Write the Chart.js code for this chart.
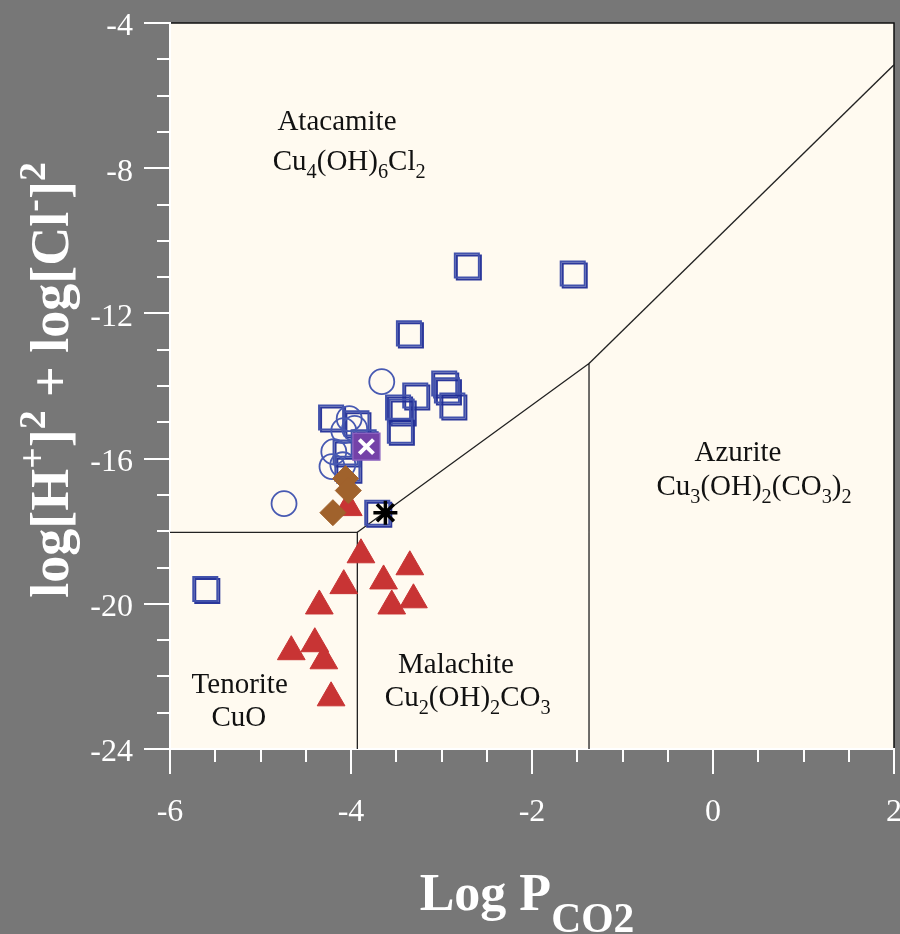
<!DOCTYPE html>
<html><head><meta charset="utf-8">
<script src="https://cdn.jsdelivr.net/npm/chart.js@4"></script>
<style>html,body{margin:0;padding:0;background:#777777;overflow:hidden;}canvas{display:block;}</style>
</head><body>
<canvas id="c" width="900" height="934" style="width:900px;height:934px"></canvas>
<script>
// ---------- data ----------
const xTicks = [-6, -4, -2, 0, 2];
const yTicks = [-4, -8, -12, -16, -20, -24];

const squareX = [-2.72, -1.55, -3.36, -3.29, -2.97, -2.94, -2.88, -3.48, -3.44, -3.46, -4.22, -3.94, -4.06, -4.04, -5.61, -3.71, -3.86];
const squareY = [-10.68, -10.90, -12.55, -14.26, -13.93, -14.12, -14.54, -14.59, -14.70, -15.23, -14.87, -15.03, -15.83, -16.28, -19.59, -17.49, -15.55];

const circleX = [-3.66, -4.74, -4.02, -4.08, -3.96, -4.19, -4.21, -4.09];
const circleY = [-13.88, -17.24, -14.90, -15.23, -15.17, -15.81, -16.22, -16.17];

const triangleX = [-3.89, -4.08, -4.35, -4.40, -4.66, -4.30, -4.22, -3.64, -3.35, -3.55, -3.31, -4.03];
const triangleY = [-18.65, -19.50, -20.06, -21.10, -21.32, -21.57, -22.59, -19.37, -18.98, -20.06, -19.89, -17.35];

const diamondX = [-4.06, -4.03, -4.20];
const diamondY = [-16.55, -16.88, -17.49];

const purpleX = [-3.83];
const purpleY = [-15.67];

const starX = [-3.62];
const starY = [-17.49];

// phase boundaries
const tenoriteEdgeX = [-6, -3.93, -3.93];
const tenoriteEdgeY = [-18.03, -18.03, -24];
const malachiteEdgeX = [-3.93, -1.37, -1.37];
const malachiteEdgeY = [-18.03, -13.38, -24];
const azuriteEdgeX = [-1.37, 2];
const azuriteEdgeY = [-13.38, -5.15];

// ---------- helpers ----------
const pts = (xs, ys) => xs.map((x, i) => ({x, y: ys[i]}));
const SERIF = '"Liberation Serif","Times New Roman",Times,serif';
const noPad = () => ({left: 0, top: 0, right: 0, bottom: 0});

function drawRich(ctx, segs, x, y, size, weight, align, subScale, subDy, supDy) {
  const parts = segs.map(s => {
    const kind = s[1] || '';
    const sz = kind ? size * subScale : size;
    const dy = kind === 'sub' ? size * subDy : kind === 'sup' ? -size * supDy : 0;
    ctx.font = `${weight} ${sz}px ${SERIF}`;
    return {t: s[0], sz, dy, w: ctx.measureText(s[0]).width};
  });
  const total = parts.reduce((a, p) => a + p.w, 0);
  let cx = align === 'center' ? x - total / 2 : x;
  ctx.textAlign = 'left';
  ctx.textBaseline = 'alphabetic';
  for (const p of parts) {
    ctx.font = `${weight} ${p.sz}px ${SERIF}`;
    ctx.fillText(p.t, cx, y + p.dy);
    cx += p.w;
  }
}

const regionLabels = [
  {x: -4.155, y: -6.95, segs: [['Atacamite']]},
  {x: -4.02, y: -8.06, segs: [['Cu'], ['4', 'sub'], ['(OH)'], ['6', 'sub'], ['Cl'], ['2', 'sub']]},
  {x: 0.276, y: -16.06, segs: [['Azurite']]},
  {x: 0.453, y: -16.99, segs: [['Cu'], ['3', 'sub'], ['(OH)'], ['2', 'sub'], ['(CO'], ['3', 'sub'], [')'], ['2', 'sub']]},
  {x: -2.84, y: -21.90, segs: [['Malachite']]},
  {x: -2.71, y: -22.81, segs: [['Cu'], ['2', 'sub'], ['(OH)'], ['2', 'sub'], ['CO'], ['3', 'sub']]},
  {x: -5.23, y: -22.46, segs: [['Tenorite']]},
  {x: -5.24, y: -23.37, segs: [['CuO']]}
];

const framePlugin = {
  id: 'frame',
  beforeDraw(chart) {
    const {ctx, chartArea: a} = chart;
    ctx.save();
    ctx.fillStyle = '#777777';
    ctx.fillRect(0, 0, chart.width, chart.height);
    ctx.fillStyle = '#fffaf0';
    ctx.fillRect(a.left, a.top, a.right - a.left, a.bottom - a.top);
    ctx.strokeStyle = '#111';
    ctx.lineWidth = 1.5;
    ctx.strokeRect(a.left, a.top, a.right - a.left, a.bottom - a.top);
    ctx.restore();
  },
  beforeDatasetsDraw(chart) {
    const {ctx, scales: {x, y}} = chart;
    ctx.save();
    ctx.fillStyle = '#111';
    for (const L of regionLabels) {
      drawRich(ctx, L.segs, x.getPixelForValue(L.x), y.getPixelForValue(L.y), 29, 'normal', 'center', 0.7, 0.28, 0.4);
    }
    ctx.restore();
  },
  beforeDatasetDraw(chart, args) {
    const ds = chart.data.datasets[args.index];
    if (ds.shadow) {
      const ctx = chart.ctx;
      ctx.save();
      ctx.shadowColor = 'rgba(32,44,150,0.95)';
      ctx.shadowOffsetX = 2;
      ctx.shadowOffsetY = 2;
      ctx.shadowBlur = 0.6;
    }
  },
  afterDatasetDraw(chart, args) {
    const ds = chart.data.datasets[args.index];
    if (ds.shadow) chart.ctx.restore();
  },
  afterDraw(chart) {
    const {ctx, chartArea: a, scales: {x, y}} = chart;
    ctx.save();
    ctx.strokeStyle = '#ffffff';
    ctx.lineWidth = 2;
    ctx.beginPath();
    for (let k = 0; k <= 16; k++) {
      const v = x.min + k * 0.5;
      const px = Math.round(x.getPixelForValue(v));
      const len = (k % 4 === 0) ? 25 : 13;
      ctx.moveTo(px, a.bottom); ctx.lineTo(px, a.bottom + len);
    }
    for (let k = 0; k <= 20; k++) {
      const v = y.max - k;
      const py = Math.round(y.getPixelForValue(v));
      const len = (k % 4 === 0) ? 26 : 13;
      ctx.moveTo(a.left, py); ctx.lineTo(a.left - len, py);
    }
    ctx.stroke();
    // axis titles
    ctx.fillStyle = '#ffffff';
    drawRich(ctx, [['Log P'], ['CO2', 'sub']], 527, 910, 52, 'bold', 'center', 0.8, 0.42, 0.4);
    ctx.translate(68, 380);
    ctx.rotate(-Math.PI / 2);
    drawRich(ctx, [['log[H'], ['+', 'sup'], [']'], ['2', 'sup'], [' + log[Cl'], ['-', 'sup'], [']'], ['2', 'sup']], 0, 0, 54, 'bold', 'center', 0.7, 0.3, 0.42);
    ctx.restore();
  }
};

const lineStyle = {showLine: true, pointRadius: 0, borderColor: '#222', borderWidth: 1.3, fill: false, order: 20};

new Chart(document.getElementById('c'), {
  type: 'scatter',
  data: {
    datasets: [
      Object.assign({data: pts(tenoriteEdgeX, tenoriteEdgeY)}, lineStyle),
      Object.assign({data: pts(malachiteEdgeX, malachiteEdgeY)}, lineStyle),
      Object.assign({data: pts(azuriteEdgeX, azuriteEdgeY)}, lineStyle),
      {data: pts(squareX, squareY), pointStyle: 'rect', pointRadius: 17, borderColor: '#4252ac', backgroundColor: 'rgba(0,0,0,0)', borderWidth: 2, shadow: true, order: 9},
      {data: pts(circleX, circleY), pointStyle: 'circle', pointRadius: 12.5, borderColor: '#4759b2', backgroundColor: 'rgba(0,0,0,0)', borderWidth: 1.8, order: 8},
      {data: pts(purpleX, purpleY), pointStyle: 'rect', pointRadius: 19, borderColor: '#8a60bf', backgroundColor: '#7442a8', borderWidth: 1.5, order: 7},
      {data: pts(purpleX, purpleY), pointStyle: 'crossRot', pointRadius: 10, borderColor: '#ffffff', borderWidth: 4, order: 6},
      {data: pts(triangleX, triangleY), pointStyle: 'triangle', pointRadius: 16, borderColor: '#c83434', backgroundColor: '#c83434', borderWidth: 1, order: 5},
      {data: pts(diamondX, diamondY), pointStyle: 'rectRot', pointRadius: 13, borderColor: '#a0622c', backgroundColor: '#a0622c', borderWidth: 1, order: 4},
      {data: pts(starX, starY), pointStyle: 'star', pointRadius: 12, borderColor: '#000000', borderWidth: 3.5, order: 3}
    ]
  },
  options: {
    responsive: false,
    animation: false,
    events: [],
    layout: {autoPadding: false, padding: {top: 23, right: 6, left: 0, bottom: 0}},
    plugins: {legend: {display: false}, tooltip: {enabled: false}, title: {display: false}},
    scales: {
      x: {
        type: 'linear', min: -6, max: 2,
        afterBuildTicks: s => { s.ticks = xTicks.map(v => ({value: v})); },
        afterFit: s => { s.height = 185; s.paddingLeft = 0; s.paddingRight = 0; s.getPadding = noPad; },
        ticks: {color: '#ffffff', font: {family: SERIF, size: 32}, padding: 44, callback: v => String(v), maxRotation: 0, autoSkip: false},
        grid: {display: false, drawTicks: false},
        border: {display: true, color: '#ffffff', width: 2}
      },
      y: {
        type: 'linear', min: -24, max: -4,
        afterBuildTicks: s => { s.ticks = yTicks.map(v => ({value: v})); },
        afterFit: s => { s.width = 170; s.paddingTop = 0; s.paddingBottom = 0; s.getPadding = noPad; },
        ticks: {color: '#ffffff', font: {family: SERIF, size: 32}, padding: 37, labelOffset: 4, callback: v => String(v), autoSkip: false},
        grid: {display: false, drawTicks: false},
        border: {display: true, color: '#ffffff', width: 2}
      }
    }
  },
  plugins: [framePlugin]
});
</script>
</body></html>
